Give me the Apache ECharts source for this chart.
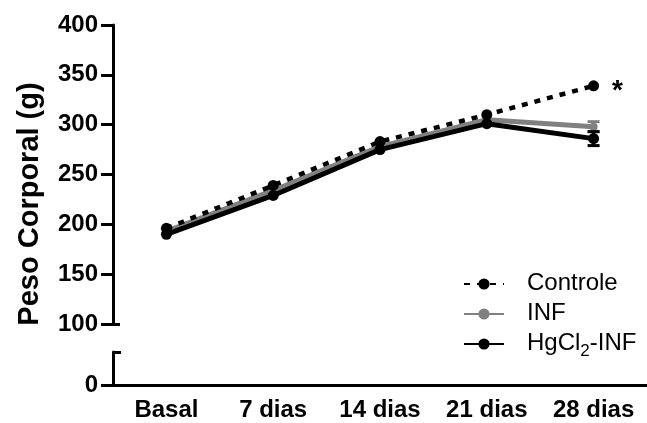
<!DOCTYPE html>
<html>
<head>
<meta charset="utf-8">
<script src="https://cdn.jsdelivr.net/npm/echarts@6/dist/echarts.min.js"></script>
<style>
html,body{margin:0;padding:0;background:#fff;}
#chart{width:647px;height:423px;}
</style>
</head>
<body>
<div id="chart"></div>
<script>
var categories = ['Basal', '7 dias', '14 dias', '21 dias', '28 dias'];
var controle = [196, 239, 283, 310, 339];
var inf = [193, 234, 278, 305, 298];
var hgcl2 = [190, 229, 275, 301, 286];
var controleErr = [0, 0, 0, 0, 0];
var infErr = [0, 0, 0, 0, 5];
var hgcl2Err = [0, 0, 0, 0, 7];
var upperTicks = [100, 150, 200, 250, 300, 350, 400];
var lowerTicks = [0];
var seriesNames = ['Controle', 'INF', 'HgCl2-INF'];
var yTitle = 'Peso Corporal (g)';
var significance = '*';

var FONT = 'Liberation Sans, Arial, sans-serif';

function errData(means, errs) {
  return means.map(function (m, i) { return [i, m, errs[i]]; });
}
function errRender(color) {
  return function (params, api) {
    var x = api.value(0), m = api.value(1), e = api.value(2);
    if (!e) return null;
    var top = api.coord([x, m + e]);
    var bot = api.coord([x, m - e]);
    var hw = 6;
    var style = { stroke: color, lineWidth: 3 };
    return {
      type: 'group',
      children: [
        { type: 'line', shape: { x1: top[0], y1: top[1], x2: bot[0], y2: bot[1] }, style: style },
        { type: 'line', shape: { x1: top[0] - hw, y1: top[1], x2: top[0] + hw, y2: top[1] }, style: style },
        { type: 'line', shape: { x1: bot[0] - hw, y1: bot[1], x2: bot[0] + hw, y2: bot[1] }, style: style }
      ]
    };
  };
}

var controleData = controle.map(function (v, i) {
  if (i === controle.length - 1) {
    return {
      value: v,
      label: {
        show: true, formatter: significance, position: 'right', distance: 13,
        fontSize: 28, fontWeight: 'bold', fontFamily: FONT, color: '#000', offset: [0, 5]
      }
    };
  }
  return v;
});

function legendFormatter(name) {
  var m = name.match(/^(.*?)(\d)(.*)$/);
  if (m) {
    return '{n|' + m[1] + '}{s|' + m[2] + '}{n|' + m[3] + '}';
  }
  return '{n|' + name + '}';
}

var chart = echarts.init(document.getElementById('chart'), null, { renderer: 'canvas' });
chart.setOption({
  animation: false,
  backgroundColor: '#fff',
  textStyle: { fontFamily: FONT },
  grid: [
    { left: 113, top: 25, width: 540, height: 299 },
    { left: 113, top: 352, width: 540, height: 33 }
  ],
  xAxis: [
    { gridIndex: 0, type: 'category', data: categories, boundaryGap: true, show: false },
    {
      gridIndex: 1, type: 'category', data: categories, boundaryGap: true,
      axisLine: { lineStyle: { color: '#000', width: 3 } },
      axisTick: { alignWithLabel: true, length: 6, lineStyle: { color: '#000', width: 3 } },
      axisLabel: { color: '#000', fontSize: 24, fontWeight: 'bold', fontFamily: FONT, margin: 13 }
    }
  ],
  yAxis: [
    {
      gridIndex: 0, type: 'value', min: 100, max: 400, interval: 50,
      axisLine: { show: true, lineStyle: { color: '#000', width: 3 } },
      axisTick: { show: true, length: 12, lineStyle: { color: '#000', width: 3 }, customValues: upperTicks },
      axisLabel: { color: '#000', fontSize: 24, fontWeight: 'bold', fontFamily: FONT, margin: 15, customValues: upperTicks },
      splitLine: { show: false }
    },
    {
      gridIndex: 0, type: 'value', min: 100, max: 400, position: 'left',
      axisLine: { show: false },
      axisTick: { show: true, inside: true, length: 7, lineStyle: { color: '#000', width: 3 }, customValues: [100] },
      axisLabel: { show: false },
      splitLine: { show: false }
    },
    {
      gridIndex: 1, type: 'value', min: 0, max: 33,
      axisLine: { show: true, lineStyle: { color: '#000', width: 3 } },
      axisTick: { show: true, length: 12, lineStyle: { color: '#000', width: 3 }, customValues: lowerTicks },
      axisLabel: { color: '#000', fontSize: 24, fontWeight: 'bold', fontFamily: FONT, margin: 15, customValues: lowerTicks },
      splitLine: { show: false }
    },
    {
      gridIndex: 1, type: 'value', min: 0, max: 33, position: 'left',
      axisLine: { show: false },
      axisTick: { show: true, inside: true, length: 8, lineStyle: { color: '#000', width: 3 }, customValues: [33] },
      axisLabel: { show: false },
      splitLine: { show: false }
    }
  ],
  legend: {
    orient: 'vertical', left: 458, top: 266, itemWidth: 40, itemHeight: 14, itemGap: 6,
    data: seriesNames,
    formatter: legendFormatter,
    textStyle: {
      color: '#000', fontSize: 24, fontFamily: FONT,
      padding: [0, 0, 0, 18],
      rich: {
        n: { fontSize: 24, fontFamily: FONT, color: '#000', lineHeight: 26, verticalAlign: 'top' },
        s: { fontSize: 17, fontFamily: FONT, color: '#000', lineHeight: 17, verticalAlign: 'top', padding: [12, 0, 0, 0] }
      }
    }
  },
  graphic: [{
    type: 'text', x: 29.5, y: 204, rotation: Math.PI / 2,
    style: {
      text: yTitle, fontSize: 29, fontWeight: 'bold', fontFamily: FONT,
      fill: '#000', align: 'center', verticalAlign: 'middle'
    }
  }],
  series: [
    {
      name: seriesNames[1], type: 'line', xAxisIndex: 0, yAxisIndex: 0, data: inf,
      symbol: 'circle', symbolSize: 8, z: 3,
      lineStyle: { color: '#808080', width: 5 }, itemStyle: { color: '#808080' }
    },
    {
      name: seriesNames[1] + ' err', type: 'custom', xAxisIndex: 0, yAxisIndex: 0,
      data: errData(inf, infErr), renderItem: errRender('#808080'), z: 3
    },
    {
      name: seriesNames[2], type: 'line', xAxisIndex: 0, yAxisIndex: 0, data: hgcl2,
      symbol: 'circle', symbolSize: 11, z: 4,
      lineStyle: { color: '#000', width: 5 }, itemStyle: { color: '#000' }
    },
    {
      name: seriesNames[2] + ' err', type: 'custom', xAxisIndex: 0, yAxisIndex: 0,
      data: errData(hgcl2, hgcl2Err), renderItem: errRender('#000'), z: 4
    },
    {
      name: seriesNames[0], type: 'line', xAxisIndex: 0, yAxisIndex: 0, data: controleData,
      symbol: 'circle', symbolSize: 11, z: 5,
      lineStyle: { color: '#000', width: 4.5, type: [6, 7] }, itemStyle: { color: '#000' }
    },
    {
      name: seriesNames[0] + ' err', type: 'custom', xAxisIndex: 0, yAxisIndex: 0,
      data: errData(controle, controleErr), renderItem: errRender('#000'), z: 5
    }
  ]
});
</script>
</body>
</html>
